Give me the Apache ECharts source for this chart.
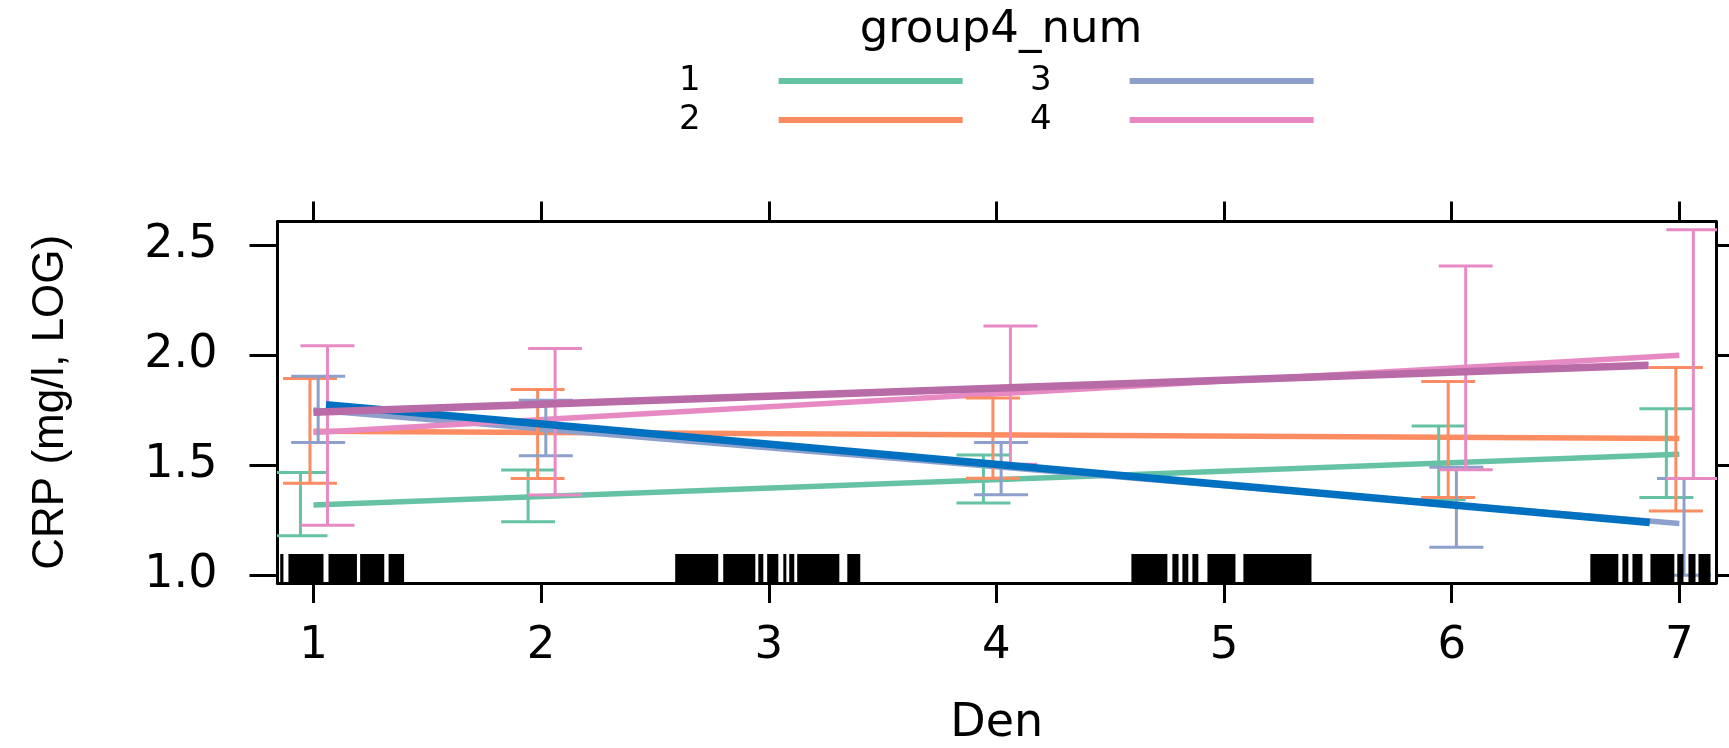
<!DOCTYPE html>
<html>
<head>
<meta charset="utf-8">
<title>CRP by Den</title>
<script src="https://cdn.jsdelivr.net/npm/echarts@6/dist/echarts.min.js"></script>
<style>
    html, body { margin: 0; padding: 0; background: #fff; }
    #chart { width: 1729px; height: 748px; }
</style>
</head>
<body>
<div id="chart"></div>
<script>
(function() {
    'use strict';

    // groups and their colours (Set2)
    var groups = ['1', '2', '3', '4'];
    var groupColors = ['#66C2A5', '#FC8D62', '#8DA0CB', '#E78AC3'];

    // axis ticks
    var denTicks = [1, 2, 3, 4, 5, 6, 7];
    var crpTicks = [1.0, 1.5, 2.0, 2.5];

    // fitted line per group, from Den 1 to Den 7
    var fitDen = [1, 7];
    var fit1 = [1.32, 1.55];
    var fit2 = [1.655, 1.622];
    var fit3 = [1.752, 1.236];
    var fit4 = [1.649, 2.001];

    // confidence bars per group
    var barDen = [1, 2, 4, 6, 7];
    var low1 = [1.18, 1.243, 1.329, 1.344, 1.354];
    var up1 = [1.467, 1.479, 1.547, 1.679, 1.757];
    var low2 = [1.419, 1.44, 1.441, 1.354, 1.293];
    var up2 = [1.895, 1.845, 1.806, 1.881, 1.945];
    var low3 = [1.604, 1.544, 1.366, 1.128, 1.0];
    var up3 = [1.905, 1.796, 1.604, 1.491, 1.44];
    var low4 = [1.228, 1.365, 1.505, 1.48, 1.44];
    var up4 = [2.044, 2.032, 2.134, 2.407, 2.572];

    // two overall trend lines (thick)
    var trendBlueDen = [1.055, 6.87];
    var trendBlue = [1.776, 1.24];
    var trendPurpleDen = [1.0, 6.865];
    var trendPurple = [1.742, 1.955];

    // rug of observed Den values, as dense runs
    var rugFrom = [0.854, 0.890, 1.066, 1.205, 1.330,
                   2.589, 2.800, 2.954, 2.993, 3.064, 3.090, 3.125, 3.345,
                   4.593, 4.773, 4.817, 4.861, 4.927, 5.085,
                   6.609, 6.750, 6.794, 6.873, 6.991, 7.040, 7.084];
    var rugTo = [0.868, 1.044, 1.191, 1.311, 1.398,
                 2.778, 2.941, 2.976, 3.042, 3.077, 3.112, 3.310, 3.402,
                 4.751, 4.800, 4.843, 4.887, 5.050, 5.384,
                 6.732, 6.776, 6.838, 6.978, 7.018, 7.071, 7.137];

    var X_MIN = 0.842, X_MAX = 7.161;
    var Y_MIN = 0.965, Y_MAX = 2.609;
    var FONT = 'DejaVu Sans';
    var fits = [fit1, fit2, fit3, fit4];
    var lows = [low1, low2, low3, low4];
    var ups = [up1, up2, up3, up4];
    var dodge = [-13, -3.5, 4.7, 14];

    function zip(xs, ys) {
        return xs.map(function(x, i) { return [x, ys[i]]; });
    }

    function errorBarItem(shift, color) {
        return function(params, api) {
            var lo = api.coord([api.value(0), api.value(1)]);
            var hi = api.coord([api.value(0), api.value(2)]);
            var x = lo[0] + shift;
            var hw = 27;
            var st = { stroke: color, lineWidth: 3, fill: null };
            return {
                type: 'group',
                children: [
                    { type: 'line', shape: { x1: x, y1: lo[1], x2: x, y2: hi[1] }, style: st },
                    { type: 'line', shape: { x1: x - hw, y1: lo[1], x2: x + hw, y2: lo[1] }, style: st },
                    { type: 'line', shape: { x1: x - hw, y1: hi[1], x2: x + hw, y2: hi[1] }, style: st }
                ]
            };
        };
    }

    var series = [];

    groups.forEach(function(g, i) {
        series.push({
            name: g,
            type: 'line',
            color: groupColors[i],
            data: zip(fitDen, fits[i]),
            showSymbol: false,
            lineStyle: { width: 5.5, color: groupColors[i] },
            z: 2
        });
    });

    groups.forEach(function(g, i) {
        series.push({
            name: 'bars' + g,
            type: 'custom',
            clip: true,
            data: barDen.map(function(d, k) { return [d, lows[i][k], ups[i][k]]; }),
            encode: { x: 0, y: [1, 2] },
            renderItem: errorBarItem(dodge[i], groupColors[i]),
            z: 3
        });
    });

    series.push({
        name: 'trendBlue',
        type: 'line',
        data: zip(trendBlueDen, trendBlue),
        showSymbol: false,
        lineStyle: { width: 7.5, color: '#0070C0' },
        z: 5
    });
    series.push({
        name: 'trendPurple',
        type: 'line',
        data: zip(trendPurpleDen, trendPurple),
        showSymbol: false,
        lineStyle: { width: 7.5, color: '#B86BA6' },
        z: 6
    });

    series.push({
        name: 'rug',
        type: 'custom',
        clip: true,
        data: zip(rugFrom, rugTo),
        encode: { x: [0, 1] },
        renderItem: function(params, api) {
            var a = api.coord([api.value(0), Y_MIN]);
            var b = api.coord([api.value(1), Y_MIN]);
            return {
                type: 'rect',
                shape: { x: a[0], y: a[1] - 29, width: Math.max(b[0] - a[0], 3), height: 29 },
                style: { fill: '#000' }
            };
        },
        z: 4
    });

    function legendFor(names, left) {
        return {
            data: names,
            orient: 'vertical',
            left: left,
            top: 59,
            align: 'right',
            icon: 'rect',
            itemWidth: 184,
            itemHeight: 6,
            itemGap: 5,
            selectedMode: false,
            textStyle: { fontSize: 34, fontFamily: FONT, color: '#000', padding: [0, 73, 0, 0] }
        };
    }

    var axisLine = { show: true, onZero: false, lineStyle: { color: '#000', width: 3 } };

    var option = {
        animation: false,
        backgroundColor: '#fff',
        title: {
            text: 'group4_num',
            left: 996,
            top: 3,
            textAlign: 'center',
            textStyle: { fontSize: 45, fontWeight: 'normal', fontFamily: FONT, color: '#000' }
        },
        legend: [legendFor(['1', '2'], 674), legendFor(['3', '4'], 1025)],
        grid: { left: 277.5, top: 221.5, right: 13, bottom: 161.5, containLabel: false },
        xAxis: [{
            type: 'value',
            position: 'bottom',
            min: X_MIN,
            max: X_MAX,
            axisLine: axisLine,
            axisTick: { show: true, length: 20, customValues: denTicks, lineStyle: { color: '#000', width: 3 } },
            axisLabel: { customValues: denTicks, fontSize: 45, fontFamily: FONT, color: '#000', margin: 41 },
            splitLine: { show: false },
            name: 'Den',
            nameLocation: 'middle',
            nameGap: 118,
            nameTextStyle: { fontSize: 46, fontFamily: FONT, color: '#000' }
        }, {
            type: 'value',
            position: 'top',
            min: X_MIN,
            max: X_MAX,
            axisLine: axisLine,
            axisTick: { show: true, length: 20, customValues: denTicks, lineStyle: { color: '#000', width: 3 } },
            axisLabel: { show: false },
            splitLine: { show: false }
        }],
        yAxis: [{
            type: 'value',
            position: 'left',
            min: Y_MIN,
            max: Y_MAX,
            axisLine: axisLine,
            axisTick: { show: true, length: 28, customValues: crpTicks, lineStyle: { color: '#000', width: 3 } },
            axisLabel: {
                customValues: crpTicks,
                fontSize: 46,
                fontFamily: FONT,
                color: '#000',
                margin: 60,
                formatter: function(v) { return v.toFixed(1); }
            },
            splitLine: { show: false },
            name: 'CRP (mg/l, LOG)',
            nameLocation: 'middle',
            nameGap: 205,
            nameTextStyle: { fontSize: 44, fontFamily: 'Liberation Sans', color: '#000' }
        }, {
            type: 'value',
            position: 'right',
            min: Y_MIN,
            max: Y_MAX,
            axisLine: axisLine,
            axisTick: { show: true, length: 28, customValues: crpTicks, lineStyle: { color: '#000', width: 3 } },
            axisLabel: { show: false },
            splitLine: { show: false }
        }],
        series: series
    };

    var chart = echarts.init(document.getElementById('chart'));
    chart.setOption(option);
})();
</script>
</body>
</html>
